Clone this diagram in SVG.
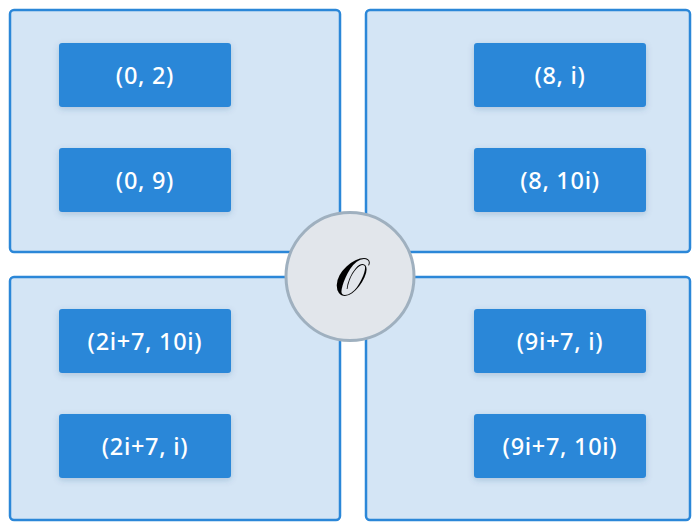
<svg xmlns="http://www.w3.org/2000/svg" width="700" height="530" viewBox="0 0 700 530">
  <defs>
    <filter id="sh" x="-20%" y="-30%" width="140%" height="160%">
      <feDropShadow dx="0" dy="2" stdDeviation="3" flood-color="#1a4f80" flood-opacity="0.22"/>
    </filter>
    <style>
      .quad { fill: #d4e5f5; stroke: #2b87d8; stroke-width: 2.5; }
      .box { fill: #2b87d8; filter: url(#sh); }
      .lbl { fill: #ffffff; font-family: "Noto Sans", Roboto, sans-serif; font-weight: 500; font-size: 23.5px; text-anchor: middle; letter-spacing: 0.7px; }
      .hub { fill: #e2e6eb; stroke: #9fb0bf; stroke-width: 3; }
      .sym { fill: #000000; font-family: "DejaVu Serif", "Liberation Serif", serif; font-size: 52px; text-anchor: middle; }
    </style>
  </defs>
  <rect width="700" height="530" fill="#ffffff"/>

  <g id="quadrant-top-left">
    <rect class="quad" x="10" y="10" width="330" height="242" rx="4"/>
    <g id="node-0-2">
      <rect class="box" x="59" y="43" width="172" height="64" rx="3"/>
      <text class="lbl" x="145" y="83.5">(0, 2)</text>
    </g>
    <g id="node-0-9">
      <rect class="box" x="59" y="148" width="172" height="64" rx="3"/>
      <text class="lbl" x="145" y="188.5">(0, 9)</text>
    </g>
  </g>

  <g id="quadrant-top-right">
    <rect class="quad" x="366" y="10" width="324" height="242" rx="4"/>
    <g id="node-8-i">
      <rect class="box" x="474" y="43" width="172" height="64" rx="3"/>
      <text class="lbl" x="560" y="83.5">(8, i)</text>
    </g>
    <g id="node-8-10i">
      <rect class="box" x="474" y="148" width="172" height="64" rx="3"/>
      <text class="lbl" x="560" y="188.5">(8, 10i)</text>
    </g>
  </g>

  <g id="quadrant-bottom-left">
    <rect class="quad" x="10" y="277" width="330" height="243" rx="4"/>
    <g id="node-2i7-10i">
      <rect class="box" x="59" y="309" width="172" height="64" rx="3"/>
      <text class="lbl" x="145" y="349.5">(2i+7, 10i)</text>
    </g>
    <g id="node-2i7-i">
      <rect class="box" x="59" y="414" width="172" height="64" rx="3"/>
      <text class="lbl" x="145" y="454.5">(2i+7, i)</text>
    </g>
  </g>

  <g id="quadrant-bottom-right">
    <rect class="quad" x="366" y="277" width="324" height="243" rx="4"/>
    <g id="node-9i7-i">
      <rect class="box" x="474" y="309" width="172" height="64" rx="3"/>
      <text class="lbl" x="560" y="349.5">(9i+7, i)</text>
    </g>
    <g id="node-9i7-10i">
      <rect class="box" x="474" y="414" width="172" height="64" rx="3"/>
      <text class="lbl" x="560" y="454.5">(9i+7, 10i)</text>
    </g>
  </g>

  <g id="connectors"></g>

  <g id="hub">
    <circle class="hub" cx="350" cy="276.5" r="64"/>
    <text class="sym" x="350" y="295">𝒪</text>
  </g>
</svg>
